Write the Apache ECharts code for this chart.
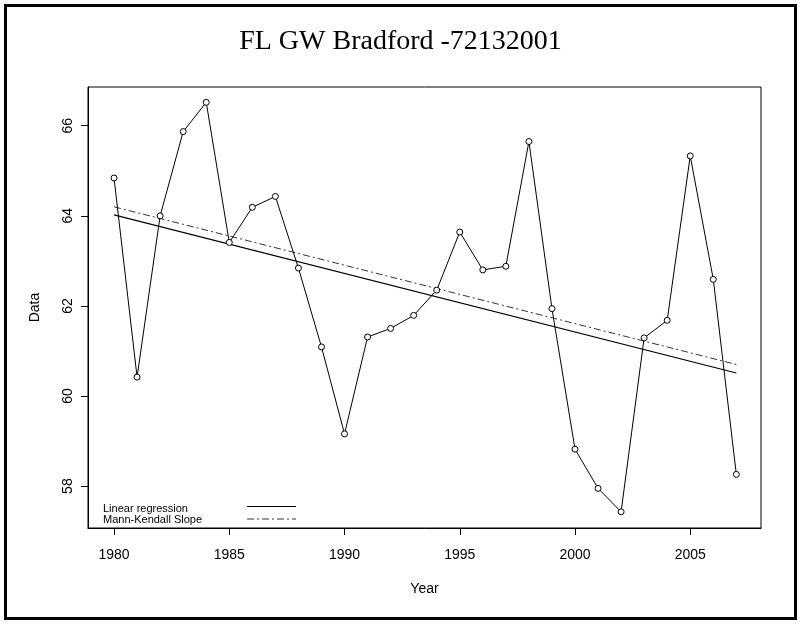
<!DOCTYPE html>
<html>
<head>
<meta charset="utf-8">
<script src="https://cdn.jsdelivr.net/npm/echarts@6/dist/echarts.min.js"></script>
<style>
  html, body { margin: 0; padding: 0; background: #fff; }
  #chart { width: 801px; height: 624px; }
</style>
</head>
<body>
<div id="chart"></div>
<script>
// values
const years = [1980, 1981, 1982, 1983, 1984, 1985, 1986, 1987, 1988, 1989,
  1990, 1991, 1992, 1993, 1994, 1995, 1996, 1997, 1998, 1999,
  2000, 2001, 2002, 2003, 2004, 2005, 2006, 2007];
const values = [64.84, 60.42, 64.00, 65.87, 66.52, 63.41, 64.19, 64.43, 62.84, 61.09,
  59.16, 61.31, 61.50, 61.79, 62.35, 63.64, 62.80, 62.88, 65.65, 61.94,
  58.82, 57.95, 57.43, 61.29, 61.68, 65.33, 62.59, 58.26];

const trendYears = [1980, 2007];
const regressionValues = [64.02, 60.51];
const mannKendallValues = [64.20, 60.70];

const xTicks = [1980, 1985, 1990, 1995, 2000, 2005];
const yTicks = [58, 60, 62, 64, 66];

const chart = echarts.init(document.getElementById('chart'));

const pairs = (xs, ys) => xs.map((x, i) => [x, ys[i]]);

const sans = 'Liberation Sans, Arial, sans-serif';

const option = {
  animation: false,
  backgroundColor: '#fff',
  title: {
    text: 'FL GW Bradford -72132001',
    left: 'center',
    top: 23,
    textStyle: {
      fontFamily: 'Liberation Serif, Times New Roman, serif',
      fontWeight: 'normal',
      fontSize: 28,
      color: '#000'
    }
  },
  grid: {
    left: 88, top: 87, right: 40, bottom: 96,
    show: true,
    borderColor: '#000',
    borderWidth: 1
  },
  xAxis: {
    type: 'value',
    min: 1978.87,
    max: 2008.07,
    name: 'Year',
    nameLocation: 'middle',
    nameGap: 54,
    nameTextStyle: { fontFamily: sans, fontSize: 14, color: '#000' },
    axisLine: { show: true, lineStyle: { color: '#000', width: 1 } },
    axisTick: { show: true, length: 7, customValues: xTicks, lineStyle: { color: '#000' } },
    axisLabel: {
      customValues: xTicks,
      formatter: (v) => String(v),
      margin: 20,
      fontFamily: sans, fontSize: 14, color: '#000'
    },
    splitLine: { show: false }
  },
  yAxis: {
    type: 'value',
    min: 57.07,
    max: 66.86,
    name: 'Data',
    nameLocation: 'middle',
    nameGap: 46,
    nameTextStyle: { fontFamily: sans, fontSize: 14, color: '#000' },
    axisLine: { show: true, lineStyle: { color: '#000', width: 1 } },
    axisTick: { show: true, length: 7, customValues: yTicks, lineStyle: { color: '#000' } },
    axisLabel: {
      customValues: yTicks,
      formatter: (v) => String(v),
      rotate: 90,
      margin: 13,
      fontFamily: sans, fontSize: 14, color: '#000'
    },
    splitLine: { show: false }
  },
  series: [
    {
      name: 'Data',
      type: 'line',
      data: pairs(years, values),
      symbol: 'circle',
      symbolSize: 6,
      itemStyle: { color: '#fff', borderColor: '#000', borderWidth: 1 },
      lineStyle: { color: '#000', width: 1 },
      z: 3
    },
    {
      name: 'Linear regression',
      type: 'line',
      data: pairs(trendYears, regressionValues),
      showSymbol: false,
      lineStyle: { color: '#000', width: 1.2 }
    },
    {
      name: 'Mann-Kendall Slope',
      type: 'line',
      data: pairs(trendYears, mannKendallValues),
      showSymbol: false,
      lineStyle: { color: '#000', width: 0.8, type: [7, 3, 2, 3] }
    }
  ],
  graphic: [
    // outer frame
    {
      type: 'rect',
      shape: { x: 5.5, y: 5.5, width: 790, height: 613 },
      style: { fill: 'none', stroke: '#000', lineWidth: 3 },
      silent: true
    },
    // legend
    {
      type: 'text', left: 103, top: 503,
      style: { text: 'Linear regression', font: '11px ' + sans, fill: '#000' }
    },
    {
      type: 'text', left: 103, top: 514,
      style: { text: 'Mann-Kendall Slope', font: '11px ' + sans, fill: '#000' }
    },
    {
      type: 'line',
      shape: { x1: 247, y1: 506.5, x2: 296, y2: 506.5 },
      style: { stroke: '#000', lineWidth: 1.2 }
    },
    {
      type: 'line',
      shape: { x1: 247, y1: 519, x2: 296, y2: 519 },
      style: { stroke: '#000', lineWidth: 0.8, lineDash: [7, 3, 2, 3] }
    }
  ]
};

chart.setOption(option);
</script>
</body>
</html>
